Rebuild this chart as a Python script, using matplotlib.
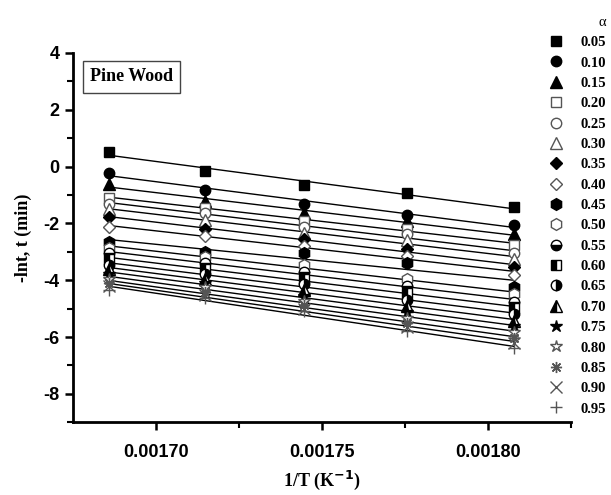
import matplotlib
matplotlib.use("Agg")
import matplotlib.pyplot as plt
import numpy as np

# 1/T values for the five isothermal runs
inv_T = [0.0016859, 0.0017148, 0.0017447, 0.0017757, 0.0018078]

alphas = ["0.05", "0.10", "0.15", "0.20", "0.25", "0.30", "0.35", "0.40", "0.45", "0.50",
          "0.55", "0.60", "0.65", "0.70", "0.75", "0.80", "0.85", "0.90", "0.95"]

a005 = [0.53, -0.14, -0.66, -0.93, -1.44]
a010 = [-0.21, -0.81, -1.30, -1.72, -2.04]
a015 = [-0.63, -1.20, -1.62, -1.93, -2.39]
a020 = [-1.09, -1.45, -1.90, -2.18, -2.75]
a025 = [-1.30, -1.65, -2.12, -2.38, -3.05]
a030 = [-1.50, -1.88, -2.35, -2.58, -3.25]
a035 = [-1.79, -2.18, -2.55, -2.90, -3.54]
a040 = [-2.14, -2.45, -2.80, -3.15, -3.80]
a045 = [-2.67, -3.00, -3.05, -3.40, -4.25]
a050 = [-2.85, -3.20, -3.45, -3.95, -4.50]
a055 = [-3.05, -3.40, -3.70, -4.20, -4.75]
a060 = [-3.25, -3.60, -3.95, -4.45, -4.98]
a065 = [-3.45, -3.78, -4.15, -4.70, -5.20]
a070 = [-3.62, -3.95, -4.35, -4.92, -5.42]
a075 = [-3.78, -4.10, -4.55, -5.12, -5.62]
a080 = [-3.95, -4.25, -4.72, -5.32, -5.82]
a085 = [-4.10, -4.40, -4.88, -5.50, -6.02]
a090 = [-4.22, -4.52, -5.00, -5.65, -6.20]
a095 = [-4.35, -4.62, -5.10, -5.80, -6.40]

series = [a005, a010, a015, a020, a025, a030, a035, a040, a045, a050,
          a055, a060, a065, a070, a075, a080, a085, a090, a095]

grey = "#555555"
# marker, size, fill colour, edge colour, fillstyle
styles = [
    ("s", 7, "black", "black", "full"),
    ("o", 7.5, "black", "black", "full"),
    ("^", 8, "black", "black", "full"),
    ("s", 7, "white", grey, "full"),
    ("o", 7.5, "white", grey, "full"),
    ("^", 8, "white", grey, "full"),
    ("D", 6.5, "black", "black", "full"),
    ("D", 6.5, "white", grey, "full"),
    ("h", 8.5, "black", "black", "full"),
    ("h", 8.5, "white", grey, "full"),
    ("o", 7.5, "black", "black", "bottom"),
    ("s", 7, "black", "black", "left"),
    ("o", 7.5, "black", "black", "right"),
    ("^", 8, "black", "black", "left"),
    ("*", 9, "black", "black", "full"),
    ("*", 9, "white", grey, "full"),
    ((8, 2, 0), 8, grey, grey, "full"),
    ("x", 8, grey, grey, "full"),
    ("+", 8, grey, grey, "full"),
]

plt.rcParams["font.family"] = "Liberation Sans"
plt.rcParams["axes.unicode_minus"] = False

fig = plt.figure(figsize=(6.11, 4.95), dpi=100)
ax = fig.add_axes([0.119, 0.147, 0.816, 0.746])

x = np.array(inv_T)
xfit = np.array([x.min(), x.max()])
for lab, y, (m, ms, fc, ec, fs) in zip(alphas, series, styles):
    k, b = np.polyfit(x, y, 1)
    ax.plot(xfit, k * xfit + b, color="black", lw=1.0, zorder=1)
    ax.plot(x, y, linestyle="none", marker=m, markersize=ms, markerfacecolor=fc,
            markeredgecolor=ec, markerfacecoloralt="white", fillstyle=fs,
            markeredgewidth=1.0, label=lab, zorder=2)

ax.set_xlim(0.001675, 0.001825)
ax.set_ylim(-9, 4)
ax.set_xticks([0.00170, 0.00175, 0.00180])
ax.set_xticklabels(["0.00170", "0.00175", "0.00180"])
ax.set_xticks([0.001725, 0.001775, 0.001825], minor=True)
ax.set_yticks([-8, -6, -4, -2, 0, 2, 4])
ax.set_yticks([-9, -7, -5, -3, -1, 1, 3], minor=True)
for s in ["top", "right"]:
    ax.spines[s].set_visible(False)
for s in ["left", "bottom"]:
    ax.spines[s].set_linewidth(2)
ax.tick_params(which="major", length=6, width=1.8, labelsize=13)
ax.tick_params(which="minor", length=4, width=1.5)
for t in ax.get_xticklabels() + ax.get_yticklabels():
    t.set_fontweight("bold")
ax.tick_params(axis="x", pad=10)

ax.set_xlabel("1/T (K$^{\\mathbf{-1}}$)", fontsize=13, fontweight="bold",
              family="Liberation Serif", labelpad=5)
ax.set_ylabel("-lnt, t (min)", fontsize=13, fontweight="bold",
              family="Liberation Serif", labelpad=8)

ax.text(0.035, 0.935, "Pine Wood", transform=ax.transAxes, fontsize=13,
        fontweight="bold", family="Liberation Serif", va="center", ha="left",
        bbox=dict(boxstyle="square,pad=0.4", fc="white", ec="#444444", lw=1))

leg = ax.legend(loc="upper left", bbox_to_anchor=(0.898, 0.968),
                bbox_transform=fig.transFigure, frameon=False, title="α",
                prop={"family": "Liberation Serif", "weight": "bold", "size": 10.5},
                handlelength=1.0, handletextpad=1.2, labelspacing=0.49,
                borderaxespad=0, borderpad=0)
leg.get_title().set_family("Liberation Serif")
leg.get_title().set_fontsize(10.5)
leg._legend_box.align = "right"

fig.savefig("out.png", dpi=100)
